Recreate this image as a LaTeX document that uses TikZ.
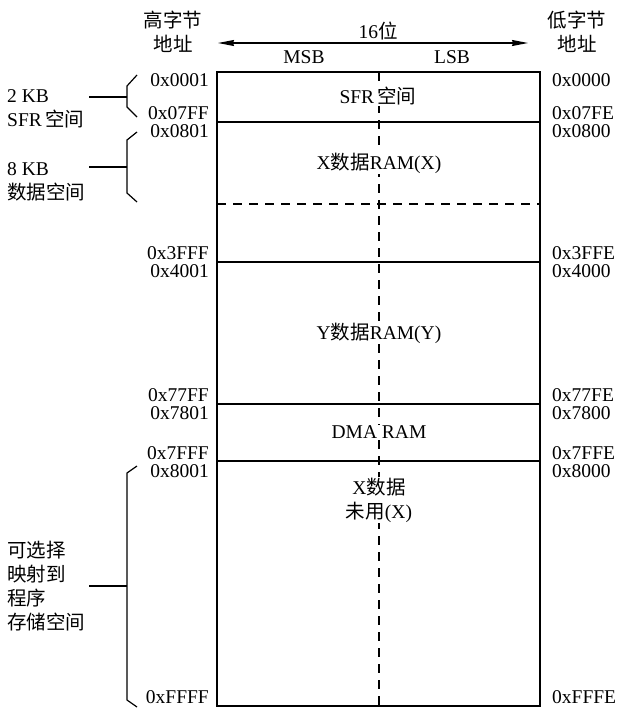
\documentclass[tikz,border=0pt]{standalone}
\usepackage{fontspec}
\setmainfont{Liberation Serif}
\newfontfamily\cjk{Noto Sans CJK SC}
\usetikzlibrary{arrows.meta,positioning,calc}
\newcommand{\zh}[1]{{\cjk #1}}

\begin{document}
\begin{tikzpicture}[
  x=1pt,y=-1pt,
  every node/.style={font=\fontsize{19.5}{24}\selectfont,inner sep=0pt,align=center},
  hiaddr/.style={anchor=east},
  loaddr/.style={anchor=west},
  inlabel/.style={fill=white,inner sep=1pt},
  sidelabel/.style={anchor=west,align=left},
  frame/.style={line width=1.8pt},
  sep/.style={line width=1.3pt},
  dsep/.style={line width=1.2pt,dash pattern=on 9pt off 7pt},
  brace/.style={line width=1.2pt},
  arr/.style={{Stealth[length=16pt,width=6pt,inset=1pt]}-{Stealth[length=16pt,width=6pt,inset=1pt]},line width=1.2pt}
]
\useasboundingbox (0,0) rectangle (620,709);

% memory block
\coordinate (mtl) at (217,72);
\coordinate (mbr) at (540,706);
\draw[dsep] (379,72) -- (379,706);
\draw[frame] (mtl) rectangle (mbr);
\draw[sep] (217,122) -- (540,122);
\draw[dsep] (217,204) -- (540,204);
\draw[sep] (217,262) -- (540,262);
\draw[sep] (217,404) -- (540,404);
\draw[sep] (217,461) -- (540,461);

% headers
\node (hihead) at (173,32) {\zh{高字节}\\\zh{地址}};
\node (lohead) at (577,32) {\zh{低字节}\\\zh{地址}};
\coordinate (arrl) at (218,43);
\coordinate (arrr) at (528,43);
\draw[arr] (arrl) -- (arrr);
\node (width) at (378,31) {16\zh{位}};
\node (msb) at (304,57) {MSB};
\node (lsb) at (452,57) {LSB};

% regions
\node[inlabel] (sfr) at (378,96) {SFR\,\zh{空间}};
\node[inlabel] (xram) at (379,163) {X\zh{数据}RAM(X)};
\node[inlabel] (yram) at (379,333) {Y\zh{数据}RAM(Y)};
\node[inlabel] (dma) at (379,432) {DMA RAM};
\node[inlabel] (xfree) at (379,500) {X\zh{数据}\\\zh{未用}(X)};

% high byte addresses
\node[hiaddr] (h0001) at (209,80) {0x0001};
\node[hiaddr] (h07ff) at (209,113) {0x07FF};
\node[hiaddr] (h0801) at (209,131) {0x0801};
\node[hiaddr] (h3fff) at (209,253) {0x3FFF};
\node[hiaddr] (h4001) at (209,271) {0x4001};
\node[hiaddr] (h77ff) at (209,395) {0x77FF};
\node[hiaddr] (h7801) at (209,413) {0x7801};
\node[hiaddr] (h7fff) at (209,453) {0x7FFF};
\node[hiaddr] (h8001) at (209,471) {0x8001};
\node[hiaddr] (hffff) at (209,697) {0xFFFF};

% low byte addresses
\node[loaddr] (l0000) at (552,80) {0x0000};
\node[loaddr] (l07fe) at (552,113) {0x07FE};
\node[loaddr] (l0800) at (552,131) {0x0800};
\node[loaddr] (l3ffe) at (552,253) {0x3FFE};
\node[loaddr] (l4000) at (552,271) {0x4000};
\node[loaddr] (l77fe) at (552,395) {0x77FE};
\node[loaddr] (l7800) at (552,413) {0x7800};
\node[loaddr] (l7ffe) at (552,453) {0x7FFE};
\node[loaddr] (l8000) at (552,471) {0x8000};
\node[loaddr] (lfffe) at (552,697) {0xFFFE};

% left braces
\node[sidelabel] (sfrkb) at (7,109) {2 KB\\SFR\,\zh{空间}};
\node[sidelabel] (datakb) at (7,182) {8 KB\\\zh{数据空间}};
\node[sidelabel] (prog) at (7,586) {\zh{可选择}\\\zh{映射到}\\\zh{程序}\\\zh{存储空间}};

\coordinate (b1) at (127,97);
\draw[brace] (137,75) -- (127,86) -- (127,107) -- (137,117);
\draw[brace] (89,97) -- (b1);
\coordinate (b2) at (127,167);
\draw[brace] (137,132) -- (127,140) -- (127,193) -- (137,202);
\draw[brace] (89,167) -- (b2);
\coordinate (b3) at (127,586);
\draw[brace] (137,466) -- (127,473) -- (127,700) -- (137,707);
\draw[brace] (89,586) -- (b3);
\end{tikzpicture}
\end{document}
